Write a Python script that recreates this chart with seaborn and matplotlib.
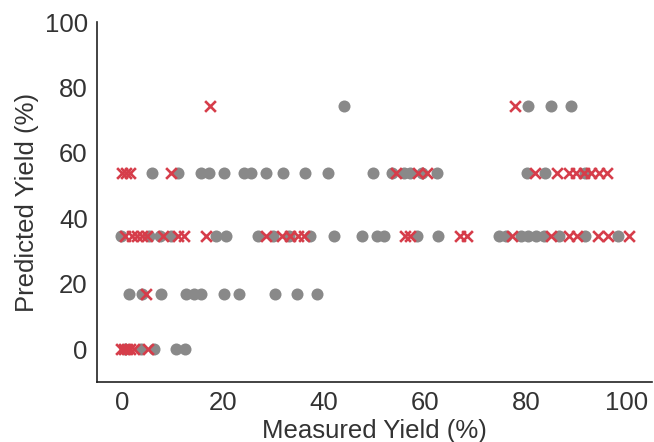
import matplotlib
matplotlib.use('Agg')
import matplotlib.pyplot as plt
import seaborn as sns
import pandas as pd

# grey circles: (measured, predicted)
grey_x_0 = [0.5, 3.7, 6.4, 10.7, 12.5]
grey_x_17 = [1.4, 4.0, 7.7, 12.7, 14.3, 15.6, 20.3, 23.2, 30.3, 34.7, 38.7]
grey_x_35 = [-0.2, 5.4, 7.5, 9.7, 18.7, 20.5, 26.9, 30.0, 33.0, 37.2, 42.0, 47.5,
             50.5, 51.8, 58.5, 62.5, 74.6, 76.0, 79.0, 80.5, 82.0, 83.5, 86.5,
             91.8, 98.2]
grey_x_54 = [6.0, 11.0, 15.7, 17.2, 20.3, 24.2, 25.5, 28.5, 31.9, 36.3, 40.8,
             49.7, 53.4, 55.8, 57.1, 59.5, 62.3, 80.2, 83.8, 91.7]
grey_x_74 = [44.0, 80.4, 84.9, 88.9]

# red crosses
red_x_0 = [-0.3, 0.4, 1.0, 1.6, 2.4, 5.2]
red_x_17 = [4.7]
red_x_35 = [0.5, 2.0, 3.0, 4.0, 5.0, 8.2, 11.0, 12.3, 16.7, 28.6, 31.7, 33.3,
            34.8, 36.1, 56.0, 57.0, 67.0, 68.3, 77.3, 84.9, 88.5, 90.2, 94.2,
            96.2, 100.5]
red_x_54 = [0.0, 0.8, 1.6, 9.7, 54.3, 58.7, 60.5, 81.8, 86.2, 88.5, 90.0, 91.5,
            93.0, 94.5, 96.0]
red_x_74 = [17.5, 77.9]

levels = [0, 17, 34.5, 54, 74.3]


def to_frame(rows):
    xs, ys = [], []
    for lvl, vals in zip(levels, rows):
        xs += vals
        ys += [lvl] * len(vals)
    return pd.DataFrame({'measured': xs, 'predicted': ys})


grey_df = to_frame([grey_x_0, grey_x_17, grey_x_35, grey_x_54, grey_x_74])
red_df = to_frame([red_x_0, red_x_17, red_x_35, red_x_54, red_x_74])

sns.set_style('white')
plt.rcParams['font.family'] = ['Liberation Sans', 'DejaVu Sans']

fig = plt.figure(figsize=(6.54, 4.42), dpi=100)
ax = fig.add_axes([0.148, 0.136, 0.849, 0.814])

sns.scatterplot(data=grey_df, x='measured', y='predicted', color='#898989',
                marker='o', s=75, linewidth=0, ax=ax, zorder=2)
sns.scatterplot(data=red_df, x='measured', y='predicted', color='#d63d4a',
                marker='x', s=60, linewidth=1.9, ax=ax, zorder=3)

ax.set_xlim(-5, 105)
ax.set_ylim(-10, 100)
ax.set_xticks([0, 20, 40, 60, 80, 100])
ax.set_yticks([0, 20, 40, 60, 80, 100])
ax.tick_params(labelsize=18.5, colors='#333333', pad=3)
ax.set_xlabel('Measured Yield (%)', fontsize=18.5, color='#333333', labelpad=3)
ax.set_ylabel('Predicted Yield (%)', fontsize=18.5, color='#333333', labelpad=4)
sns.despine(ax=ax)
for sp in ['left', 'bottom']:
    ax.spines[sp].set_color('#222222')
    ax.spines[sp].set_linewidth(1.2)

fig.savefig('out.png', dpi=100)
